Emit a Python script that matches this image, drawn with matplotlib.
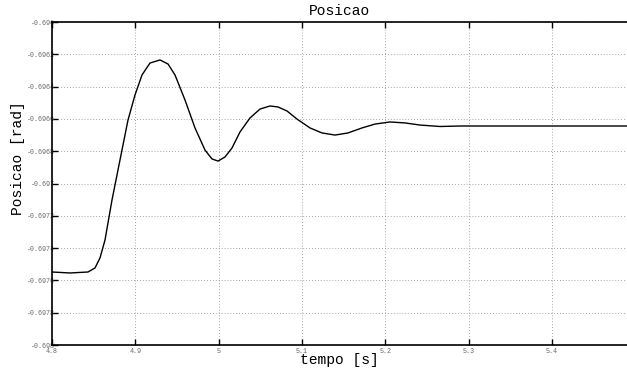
import numpy as np
import matplotlib
matplotlib.use('Agg')
import matplotlib.pyplot as plt

# step response of the angular position
tempo = [4.8000, 4.8216, 4.8432, 4.8516, 4.8576, 4.8636, 4.8720, 4.8816,
         4.8912, 4.8996, 4.9080, 4.9176, 4.9296, 4.9392, 4.9476, 4.9596,
         4.9716, 4.9836, 4.9920, 4.9992, 5.0076, 5.0160, 5.0256, 5.0376,
         5.0496, 5.0616, 5.0712, 5.0820, 5.0940, 5.1096, 5.1240, 5.1396,
         5.1552, 5.1720, 5.1876, 5.2056, 5.2236, 5.2416, 5.2656, 5.2896,
         5.3376, 5.4900]
posicao = [-0.697548, -0.697554, -0.697548, -0.697523, -0.697461, -0.697350,
           -0.697102, -0.696854, -0.696607, -0.696452, -0.696328, -0.696254,
           -0.696235, -0.696260, -0.696328, -0.696483, -0.696656, -0.696793,
           -0.696848, -0.696861, -0.696836, -0.696780, -0.696681, -0.696594,
           -0.696539, -0.696520, -0.696526, -0.696551, -0.696601, -0.696656,
           -0.696687, -0.696700, -0.696687, -0.696656, -0.696632, -0.696619,
           -0.696625, -0.696638, -0.696647, -0.696644, -0.696644, -0.696644]

xticks = [4.8, 4.9, 5.0, 5.1, 5.2, 5.3, 5.4]
xlabels = ['4.8', '4.9', '5', '5.1', '5.2', '5.3', '5.4']
yticks = [-0.698, -0.6978, -0.6976, -0.6974, -0.6972, -0.697,
          -0.6968, -0.6966, -0.6964, -0.6962, -0.696]
ylabels = ['-0.698', '-0.6978', '-0.6976', '-0.6974', '-0.6972', '-0.697',
           '-0.6968', '-0.6966', '-0.6964', '-0.6962', '-0.696']

mono = 'Liberation Mono'

fig = plt.figure(figsize=(6.27, 3.68), dpi=100)
ax = fig.add_axes([52 / 627, 1 - 345 / 368, 1 - 52 / 627, 323 / 368])

ax.plot(tempo, posicao, color='black', lw=1.0)

ax.set_xlim(4.8, 5.49)
ax.set_ylim(-0.698, -0.696)
ax.set_xticks(xticks)
ax.set_xticklabels(xlabels)
ax.set_yticks(yticks)
ax.set_yticklabels(ylabels)

ax.grid(True, linestyle=(0, (1, 2.5)), color='#888888', lw=0.6)
ax.tick_params(direction='in', length=4, width=1.0, top=True, right=False,
               labelsize=4.8, labelcolor='#666666')
ax.tick_params(axis='y', pad=-2)
ax.tick_params(axis='x', pad=2.5)
for lab in ax.get_xticklabels() + ax.get_yticklabels():
    lab.set_family(mono)

for side in ['left', 'bottom', 'top']:
    ax.spines[side].set_linewidth(1.2)
ax.spines['right'].set_visible(False)

ax.set_title('Posicao', family=mono, fontsize=10.5, pad=5)
ax.set_xlabel('tempo [s]', family=mono, fontsize=10.5, labelpad=-1.5)
ax.set_ylabel('Posicao [rad]', family=mono, fontsize=10.5)
ax.yaxis.set_label_coords(-0.047, 0.58)

fig.savefig('out.png', dpi=100)
